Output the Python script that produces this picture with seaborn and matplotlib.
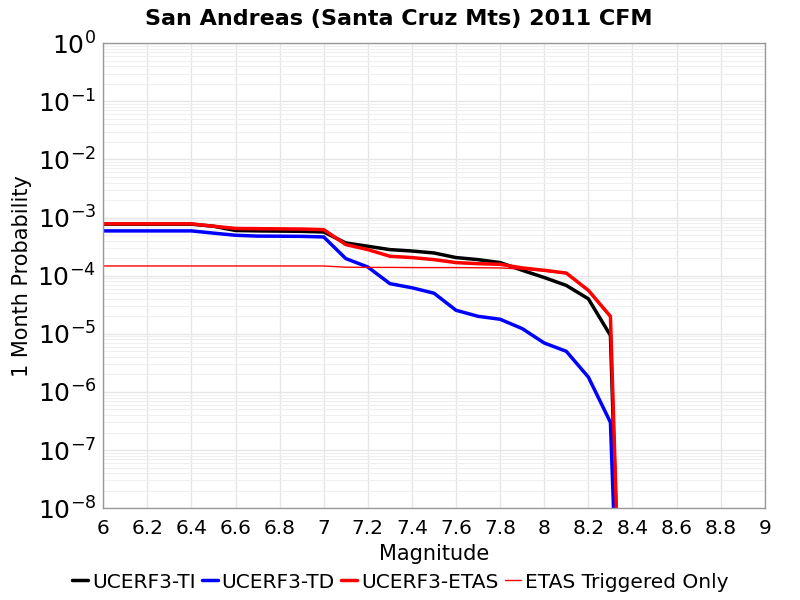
import numpy as np
import pandas as pd
import matplotlib.pyplot as plt
import matplotlib.ticker as mticker
import seaborn as sns

# magnitude bins (0.1 steps) and 1-month probabilities
mags = [6.0, 6.1, 6.2, 6.3, 6.4, 6.5, 6.6, 6.7, 6.8, 6.9, 7.0, 7.1, 7.2, 7.3,
        7.4, 7.5, 7.6, 7.7, 7.8, 7.9, 8.0, 8.1, 8.2, 8.3, 8.4]

ti = [7.7e-4, 7.7e-4, 7.7e-4, 7.7e-4, 7.7e-4, 7.1e-4, 6.0e-4, 5.9e-4, 5.85e-4,
      5.8e-4, 5.65e-4, 3.66e-4, 3.21e-4, 2.81e-4, 2.66e-4, 2.46e-4, 2.05e-4,
      1.89e-4, 1.68e-4, 1.24e-4, 9.3e-5, 6.8e-5, 4.0e-5, 9.4e-6, 1e-17]

td = [5.9e-4, 5.9e-4, 5.9e-4, 5.9e-4, 5.9e-4, 5.4e-4, 4.96e-4, 4.8e-4, 4.78e-4,
      4.75e-4, 4.64e-4, 1.97e-4, 1.41e-4, 7.3e-5, 6.2e-5, 5.0e-5, 2.54e-5,
      2.0e-5, 1.78e-5, 1.23e-5, 6.95e-6, 5.0e-6, 1.8e-6, 3.0e-7, 1e-17]

etas = [7.8e-4, 7.8e-4, 7.8e-4, 7.8e-4, 7.8e-4, 7.1e-4, 6.5e-4, 6.45e-4, 6.4e-4,
        6.35e-4, 6.2e-4, 3.43e-4, 2.81e-4, 2.16e-4, 2.05e-4, 1.89e-4, 1.68e-4,
        1.61e-4, 1.57e-4, 1.36e-4, 1.24e-4, 1.11e-4, 5.6e-5, 2.0e-5, 1e-17]

triggered = [1.47e-4, 1.47e-4, 1.47e-4, 1.47e-4, 1.47e-4, 1.47e-4, 1.47e-4,
             1.47e-4, 1.47e-4, 1.47e-4, 1.47e-4, 1.40e-4, 1.39e-4, 1.39e-4,
             1.38e-4, 1.38e-4, 1.38e-4, 1.37e-4, 1.36e-4, 1.30e-4, 1.20e-4,
             1.08e-4, 5.4e-5, 1.9e-5, 1e-17]

df = pd.DataFrame({"Magnitude": mags, "TI": ti, "TD": td,
                   "ETAS": etas, "Trig": triggered})

sns.set_style("white")
plt.rcParams["font.family"] = ["DejaVu Sans"]
plt.rcParams["text.color"] = "black"
plt.rcParams["axes.labelcolor"] = "black"
plt.rcParams["xtick.color"] = "black"
plt.rcParams["ytick.color"] = "black"

fig, ax = plt.subplots(figsize=(8, 6), dpi=100)
fig.subplots_adjust(left=0.129, right=0.956, top=0.928, bottom=0.153)

# -----------------------------------
# curves
# -----------------------------------
sns.lineplot(data=df, x="Magnitude", y="TI", color="black", linewidth=2.5,
             label="UCERF3-TI", ax=ax)
sns.lineplot(data=df, x="Magnitude", y="TD", color="blue", linewidth=2.5,
             label="UCERF3-TD", ax=ax)
sns.lineplot(data=df, x="Magnitude", y="ETAS", color="red", linewidth=2.5,
             label="UCERF3-ETAS", ax=ax)
sns.lineplot(data=df, x="Magnitude", y="Trig", color="red", linewidth=1,
             label="ETAS Triggered Only", ax=ax)

ax.set_yscale("log")
ax.set_xlim(6, 9)
ax.set_ylim(1e-8, 1)

ax.xaxis.set_major_locator(mticker.MultipleLocator(0.2))
ax.xaxis.set_major_formatter(mticker.FuncFormatter(lambda v, p: f"{v:g}"))
ax.yaxis.set_major_locator(mticker.LogLocator(base=10, numticks=20))
ax.yaxis.set_minor_locator(mticker.LogLocator(base=10, subs=np.arange(2, 10), numticks=20))
ax.yaxis.set_minor_formatter(mticker.NullFormatter())
ax.yaxis.set_major_formatter(mticker.FuncFormatter(
    lambda v, p: f"$10^{{{int(round(np.log10(v)))}}}$"))

ax.grid(True, which="major", color="#e6e6e6", linewidth=1)
ax.grid(True, which="minor", axis="y", color="#efefef", linewidth=0.8)
ax.tick_params(axis="x", labelsize=14.5, length=0, pad=8)
ax.tick_params(axis="y", which="both", labelsize=18, length=0, pad=5)
for s in ax.spines.values():
    s.set_color("#999999")
    s.set_linewidth(1)

fig.suptitle("San Andreas (Santa Cruz Mts) 2011 CFM", fontsize=16,
             fontweight="bold", x=0.498, y=0.985)
ax.set_xlabel("Magnitude", fontsize=15, labelpad=4)
ax.set_ylabel("1 Month Probability", fontsize=15, labelpad=4)

fig.legend(*ax.get_legend_handles_labels(), loc="center",
           bbox_to_anchor=(0.5, 0.03), ncol=4, frameon=False, fontsize=14.5,
           handlelength=0.8, handletextpad=0.2, columnspacing=0.3)
ax.get_legend().remove()

plt.savefig("out.png", dpi=100)
